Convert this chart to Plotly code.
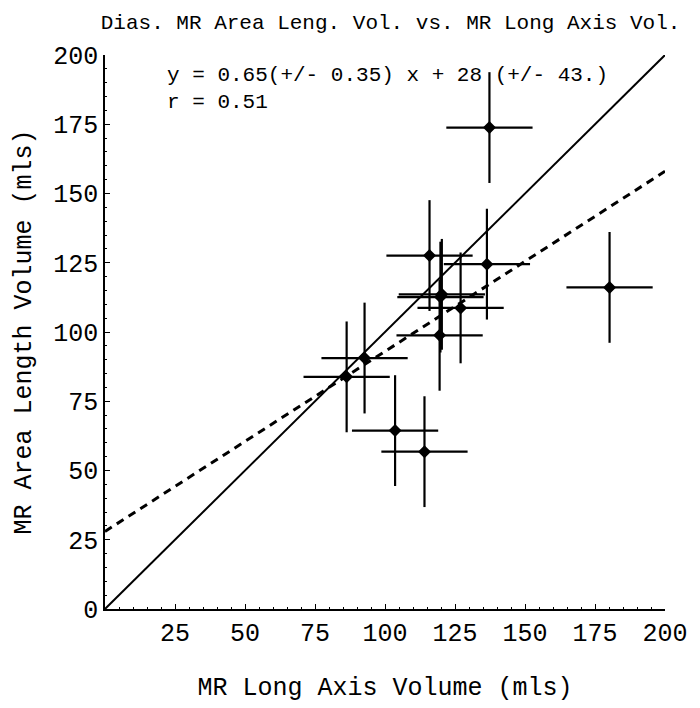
import plotly.graph_objects as go

# Diastolic volumes (mls): long-axis method vs. area-length method
long_axis_vol = [137.3, 180.2, 115.9, 136.4, 120.3, 119.8, 127.0, 119.5, 92.7, 86.3, 103.6, 114.1]
area_length_vol = [173.8, 116.1, 127.6, 124.5, 113.6, 112.6, 108.7, 98.8, 90.6, 83.8, 64.4, 56.8]
long_axis_err = [15.4, 15.4, 15.4, 15.4, 15.4, 15.4, 15.4, 15.4, 15.4, 15.4, 15.4, 15.4]
area_length_err = [20.0, 20.0, 20.0, 20.0, 20.0, 20.0, 20.0, 20.0, 20.0, 20.0, 20.0, 20.0]

# Fitted regression and identity line
fit_slope = 0.65
fit_intercept = 28
line_x = [0, 200]
tick_vals = [0, 25, 50, 75, 100, 125, 150, 175, 200]
x_tick_vals = [25, 50, 75, 100, 125, 150, 175, 200]

MONO = "Liberation Mono, Courier New, monospace"

fig = go.Figure()

# identity line y = x
fig.add_trace(go.Scatter(
    x=line_x, y=line_x, mode="lines",
    line=dict(color="black", width=2),
    hoverinfo="skip", showlegend=False,
))

# regression line
fig.add_trace(go.Scatter(
    x=line_x, y=[fit_slope * v + fit_intercept for v in line_x], mode="lines",
    line=dict(color="black", width=3, dash="8px,6px"),
    hoverinfo="skip", showlegend=False,
))

# measurements with error crosses
fig.add_trace(go.Scatter(
    x=long_axis_vol, y=area_length_vol, mode="markers",
    marker=dict(symbol="diamond", size=10, color="black"),
    error_x=dict(type="data", array=long_axis_err, visible=True,
                 color="black", thickness=2.2, width=0),
    error_y=dict(type="data", array=area_length_err, visible=True,
                 color="black", thickness=2.2, width=0),
    showlegend=False,
))

axis_common = dict(
    range=[0, 200],
    showgrid=False, zeroline=False,
    showline=True, linecolor="black", linewidth=1.5,
    ticks="inside", ticklen=5, tickwidth=1.2, tickcolor="black",
    minor=dict(dtick=5, ticks="inside", ticklen=2.5, tickwidth=1, tickcolor="black"),
    tickfont=dict(family=MONO, size=25, color="black"),
    title_font=dict(family=MONO, size=25, color="black"),
)

fig.update_xaxes(
    **axis_common,
    tickmode="array", tickvals=x_tick_vals,
    title_text="MR Long Axis Volume (mls)", title_standoff=30,
)
fig.update_yaxes(
    **axis_common,
    tickmode="array", tickvals=tick_vals,
    title_text="MR Area Length Volume (mls)", title_standoff=14,
)

fig.add_annotation(
    xref="paper", yref="paper", x=0.108, y=0.987,
    xanchor="left", yanchor="top", align="left", showarrow=False,
    text="y = 0.65(+/- 0.35) x + 28 (+/- 43.)<br>r = 0.51",
    font=dict(family=MONO, size=21, color="black"),
)

fig.update_layout(
    width=700, height=708,
    margin=dict(l=105, r=27, t=55, b=85),
    paper_bgcolor="white", plot_bgcolor="white",
    title=dict(
        text="Dias. MR Area Leng. Vol. vs. MR Long Axis Vol.",
        x=0.558, xanchor="center", y=0.97, yanchor="middle",
        font=dict(family=MONO, size=21, color="black"),
    ),
)

fig.write_html("out.html")
